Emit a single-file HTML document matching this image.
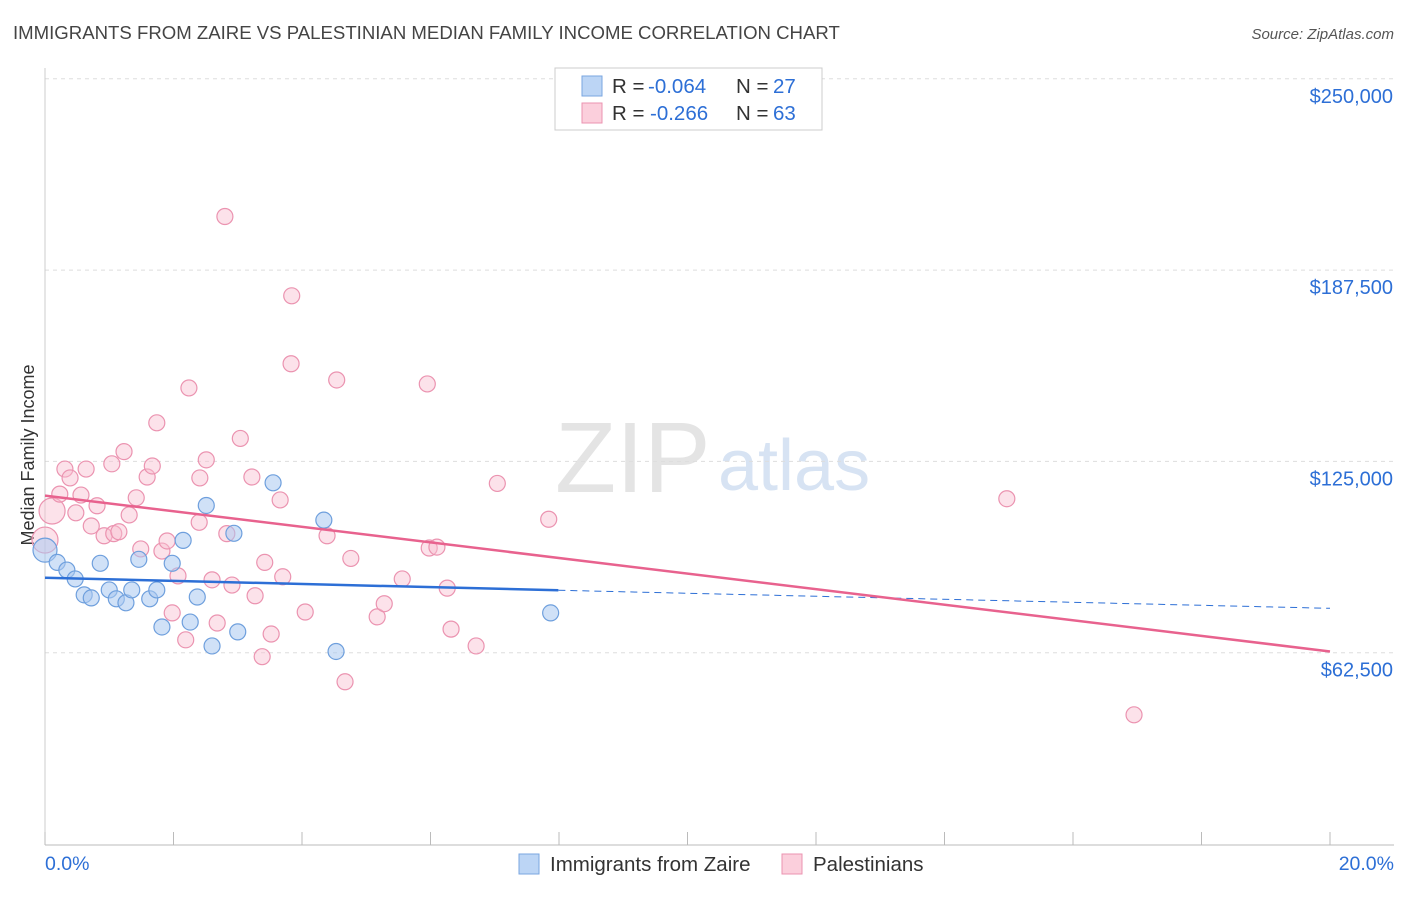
<!DOCTYPE html>
<html><head><meta charset="utf-8"><style>
body{margin:0;background:#fff;font-family:"Liberation Sans",sans-serif;}
svg text{font-family:"Liberation Sans",sans-serif;}
</style></head><body>
<svg id="chart" width="1406" height="892">
<text x="13" y="39" font-size="18.6" fill="#444">IMMIGRANTS FROM ZAIRE VS PALESTINIAN MEDIAN FAMILY INCOME CORRELATION CHART</text>
<text x="1394" y="39" font-size="15" fill="#555" font-style="italic" text-anchor="end">Source: ZipAtlas.com</text>
<text x="555" y="492" font-size="100" fill="#e4e4e4" font-family="Liberation Serif">ZIP</text>
<text x="718" y="490" font-size="72" fill="#d7e3f3">atlas</text>
<text transform="translate(34,455) rotate(-90)" font-size="18" fill="#333" text-anchor="middle">Median Family Income</text>
<g id="grid"></g><g id="pts"></g><g id="lines"></g>
<g>
<rect x="555" y="68" width="267" height="62" fill="#fff" stroke="#ccc"/>
<rect x="582" y="76" width="20" height="20" fill="#bcd5f5" stroke="#7aa6e0"/>
<rect x="582" y="103" width="20" height="20" fill="#fbcfdc" stroke="#eb93b0"/>
<g font-size="20.5" fill="#333">
<text x="612" y="93">R =</text><text x="648" y="93" fill="#2d6fd6">-0.064</text><text x="736" y="93">N =</text><text x="773" y="93" fill="#2d6fd6">27</text>
<text x="612" y="120">R =</text><text x="650" y="120" fill="#2d6fd6">-0.266</text><text x="736" y="120">N =</text><text x="773" y="120" fill="#2d6fd6">63</text>
</g>
</g>
<g>
<rect x="519" y="854" width="20" height="20" fill="#bcd5f5" stroke="#7aa6e0"/>
<text x="550" y="871" font-size="20.5" fill="#333">Immigrants from Zaire</text>
<rect x="782" y="854" width="20" height="20" fill="#fbcfdc" stroke="#eb93b0"/>
<text x="813" y="871" font-size="20.5" fill="#333">Palestinians</text>
</g>
<text x="45" y="870" font-size="19.5" fill="#2d6fd6">0.0%</text>
<text x="1394" y="870" font-size="19.5" fill="#2d6fd6" text-anchor="end">20.0%</text>
</svg>
<script>
const yTicks=[62500,125000,187500,250000];
const yTickLabels=["$62,500","$125,000","$187,500","$250,000"];
const xTicks=[0,2,4,6,8,10,12,14,16,18,20];
const zaireX=[0.0,0.19,0.34,0.47,0.61,0.72,0.86,1.0,1.11,1.26,1.35,1.46,1.63,1.74,1.82,1.98,2.15,2.26,2.37,2.51,2.6,2.94,3.0,3.55,4.34,4.53,7.87];
const zaireY=[96000,92000,89500,86600,81400,80400,91700,83000,80100,78800,83000,93000,80100,83000,70900,91700,99200,72500,80700,110600,64700,101500,69300,118000,105800,62900,75500];
const palX=[0.0,0.11,0.23,0.31,0.39,0.48,0.56,0.64,0.72,0.81,0.92,1.04,1.07,1.15,1.23,1.31,1.42,1.49,1.59,1.67,1.74,1.82,1.9,1.98,2.07,2.19,2.24,2.4,2.41,2.51,2.6,2.68,2.8,2.83,2.91,3.04,3.22,3.27,3.38,3.42,3.52,3.66,3.7,3.83,3.84,4.05,4.39,4.54,4.67,4.76,5.17,5.28,5.56,5.95,5.98,6.1,6.26,6.32,6.71,7.04,7.84,14.97,16.95];
const palY=[99300,108800,114300,122500,119600,108200,114000,122500,103900,110500,100700,124200,101400,102000,128200,107500,113100,96400,119900,123500,137600,95700,99000,75500,87600,66700,149000,105100,119600,125500,86300,72200,205000,101400,84600,132500,119900,81100,61200,92000,68600,112400,87300,156900,179100,75800,100700,151600,53000,93300,74200,78500,86600,150300,96700,97000,83600,70200,64700,117800,106100,112800,42200];
const X=v=>45+v*64.25, Y=v=>844-v/326.7;
const NS="http://www.w3.org/2000/svg";
function mk(p,t,a){const e=document.createElementNS(NS,t);for(const k in a)e.setAttribute(k,a[k]);p.appendChild(e);return e;}
const grid=document.getElementById('grid');
yTicks.forEach((v,i)=>{
 const l=mk(grid,'line',{x1:45,x2:1394,y1:Y(v),y2:Y(v),stroke:'#ddd','stroke-dasharray':'4,4'});
 
 
 const t=mk(grid,'text',{x:1393,y:Y(v)+24,'font-size':20,fill:'#2d6fd6','text-anchor':'end'});
 t.textContent=yTickLabels[i];
 
 
});
const ax=mk(grid,'line',{x1:45,x2:1394,y1:845,y2:845,stroke:'#bbb'});


const yax=mk(grid,'line',{x1:45,x2:45,y1:68,y2:845,stroke:'#ccc'});


xTicks.forEach(v=>{
 const l=mk(grid,'line',{x1:X(v),x2:X(v),y1:832,y2:845,stroke:'#bbb'});
 
 
});
const pts=document.getElementById('pts');
palX.forEach((x,i)=>{
 const c=mk(pts,'circle',{cx:X(x),cy:Y(palY[i]),r:i<2?13:8,fill:'#f8bfd1','fill-opacity':0.45,stroke:'#eb93b0','stroke-width':1.2});
 
 
});
zaireX.forEach((x,i)=>{
 const c=mk(pts,'circle',{cx:X(x),cy:Y(zaireY[i]),r:i<1?12:8,fill:'#a9c8f0','fill-opacity':0.55,stroke:'#6e9fdd','stroke-width':1.2});
 
 
});
const lines=document.getElementById('lines');
const zl=mk(lines,'line',{x1:X(0),y1:Y(87000),x2:X(7.99),y2:Y(82900),stroke:'#2d6fd6','stroke-width':2.5});


const zd=mk(lines,'line',{x1:X(7.99),y1:Y(82900),x2:X(20),y2:Y(77000),stroke:'#2d6fd6','stroke-width':1,'stroke-dasharray':'7,5'});


const pl=mk(lines,'line',{x1:X(0),y1:Y(113800),x2:X(20),y2:Y(62900),stroke:'#e8628e','stroke-width':2.5});


</script>
</body></html>
